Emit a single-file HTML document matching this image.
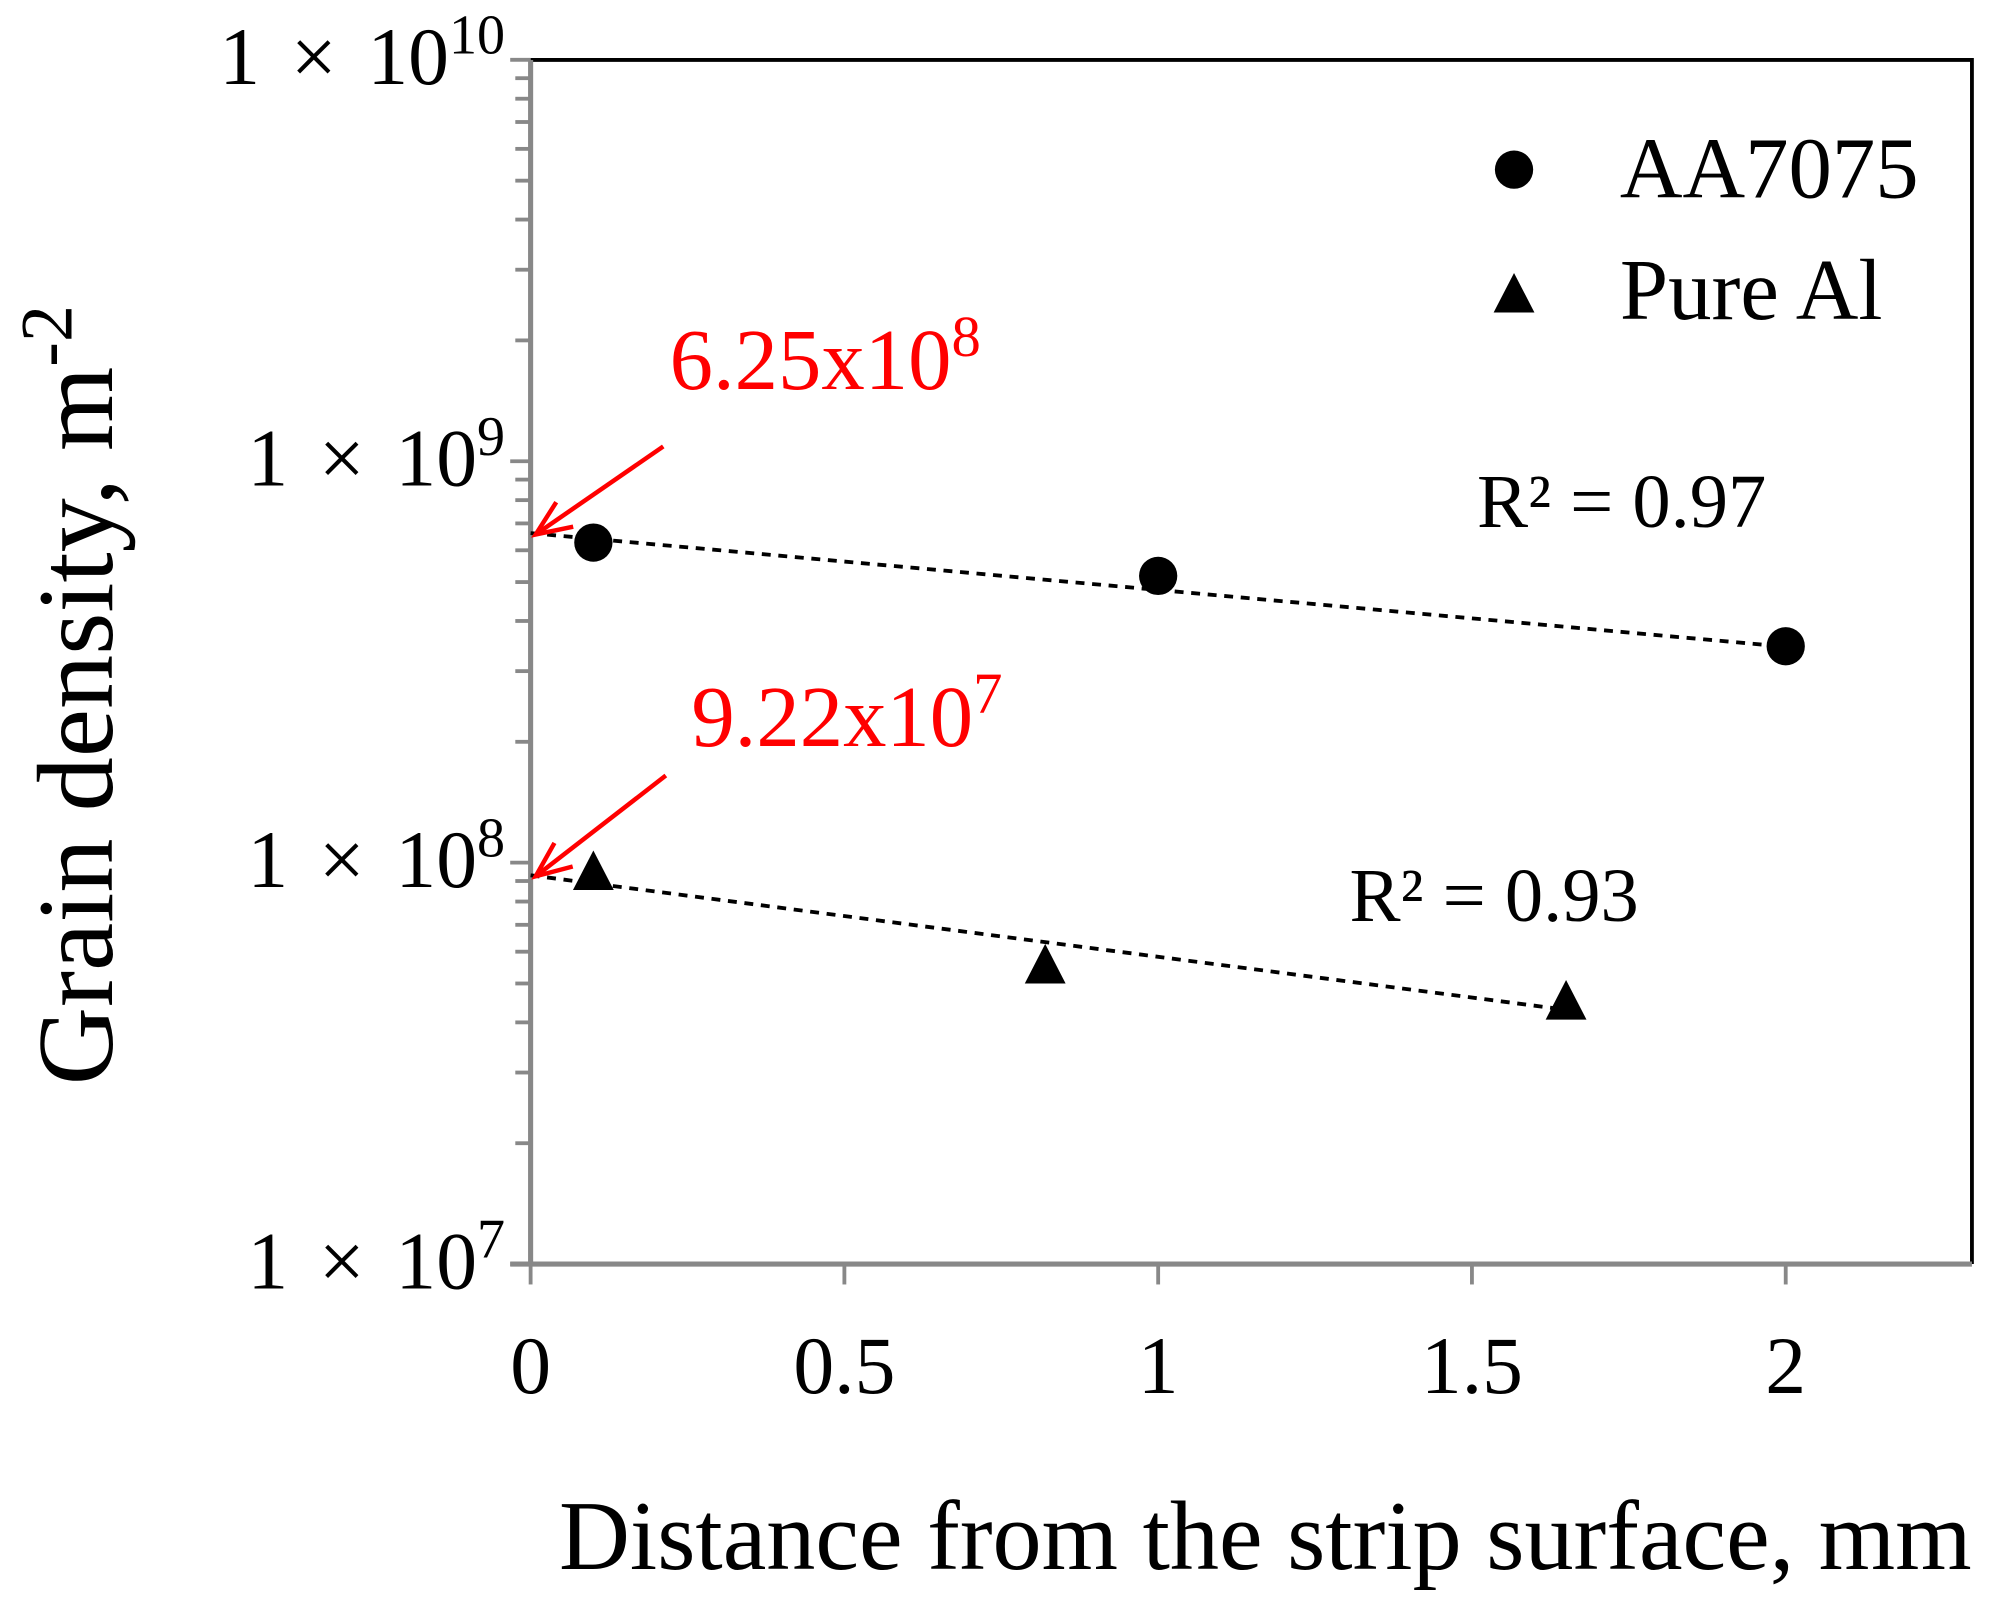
<!DOCTYPE html>
<html><head><meta charset="utf-8"><style>
html,body{margin:0;padding:0;background:#fff}
svg{display:block}
text{font-family:"Liberation Serif",serif}
</style></head><body>
<svg id="chart" width="2000" height="1611" viewBox="0 0 1568 1263" preserveAspectRatio="none" xmlns="http://www.w3.org/2000/svg">
<g id="g"></g>
</svg>
<script>
const xTicks=[0,0.5,1,1.5,2];
const xTickLabels=["0","0.5","1","1.5","2"];
const yDecades=[7,8,9,10];
const aaX=[0.1,1,2];
const aaY=[6.27e8,5.18e8,3.46e8];
const alX=[0.1,0.82,1.65];
const alY=[9.4e7,5.5e7,4.47e7];
const aaTrendX=[0,2];
const aaTrendY=[6.62e8,3.45e8];
const alTrendX=[0,1.65];
const alTrendY=[9.3e7,4.3e7];

const L=416,T=47,R=1546,B=991;
const xs=v=>L+v*492;
const ys=v=>B-(Math.log10(v)-7)*314.7;
const NS="http://www.w3.org/2000/svg";
const g=document.getElementById('g');
function mk(tag,attrs,txt){const e=document.createElementNS(NS,tag);for(const k in attrs)e.setAttribute(k,attrs[k]);if(txt!==undefined)e.textContent=txt;g.appendChild(e);return e;}

let e=mk('path',{d:`M${L},${T}H${R}V${B}`,fill:'none',stroke:'#000','stroke-width':3});


e=mk('line',{x1:L,y1:T,x2:L,y2:B,stroke:'#888','stroke-width':4});


e=mk('line',{x1:L-16,y1:B,x2:R,y2:B,stroke:'#888','stroke-width':4});



yDecades.forEach((d,i)=>{
  const y=ys(Math.pow(10,d));
  let t=mk('line',{x1:L-16,y1:y,x2:L,y2:y,stroke:'#888','stroke-width':3});
  
  
  let lab=mk('text',{x:396,y:y+19,'text-anchor':'end','font-size':64,'word-spacing':8});
  
  
  lab.innerHTML=`1 × 10<tspan dy="-24" font-size="44">${d}</tspan>`;
  if(i<yDecades.length-1){
    for(let m=2;m<=9;m++){
      const ym=ys(m*Math.pow(10,d));
      let mt=mk('line',{x1:L-12,y1:ym,x2:L,y2:ym,stroke:'#888','stroke-width':3});
      
      
    }
  }
});
xTicks.forEach((v,i)=>{
  const x=xs(v);
  let t=mk('line',{x1:x,y1:B,x2:x,y2:B+16,stroke:'#888','stroke-width':3});
  
  
  let lab=mk('text',{x:x,y:1092,'text-anchor':'middle','font-size':64},xTickLabels[i]);
  
  
});
e=mk('text',{x:992,y:1230,'text-anchor':'middle','font-size':77},'Distance from the strip surface, mm');


e=mk('text',{x:0,y:0,'text-anchor':'middle','font-size':85,transform:'translate(88,545) rotate(-90)'});


e.innerHTML='Grain density, m<tspan dy="-32" font-size="58">-2</tspan>';

e=mk('line',{x1:xs(aaTrendX[0]),y1:ys(aaTrendY[0]),x2:xs(aaTrendX[1]),y2:ys(aaTrendY[1]),stroke:'#000','stroke-width':3,'stroke-dasharray':'7,6'});


e=mk('line',{x1:xs(alTrendX[0]),y1:ys(alTrendY[0]),x2:xs(alTrendX[1]),y2:ys(alTrendY[1]),stroke:'#000','stroke-width':3,'stroke-dasharray':'7,6'});



aaX.forEach((x,i)=>{
  let c=mk('circle',{cx:xs(x),cy:ys(aaY[i]),r:15,fill:'#000'});
  
  
});
function tri(cx,cy){return `M${cx},${cy-18}L${cx+16},${cy+13}L${cx-16},${cy+13}Z`;}
alX.forEach((x,i)=>{
  let p=mk('path',{d:tri(xs(x),ys(alY[i])),fill:'#000'});
  
  
});

e=mk('circle',{cx:1187,cy:133,r:15,fill:'#000'});


e=mk('text',{x:1270,y:155,'font-size':68},'AA7075');


e=mk('path',{d:tri(1187,232),fill:'#000'});


e=mk('text',{x:1270,y:250,'font-size':68},'Pure Al');



e=mk('text',{x:1158,y:413,'font-size':60},'R² = 0.97');


e=mk('text',{x:1058,y:722,'font-size':60},'R² = 0.93');



e=mk('text',{x:525,y:305,'font-size':68,fill:'#f00'});


e.innerHTML='6.25x10<tspan dy="-26" font-size="46">8</tspan>';
e=mk('text',{x:542,y:585,'font-size':68,fill:'#f00'});


e.innerHTML='9.22x10<tspan dy="-26" font-size="46">7</tspan>';
function arrow(x1,y1,x2,y2,name){
  let l=mk('line',{x1:x1,y1:y1,x2:x2,y2:y2,stroke:'#f00','stroke-width':3.5});
  
  
  const a=Math.atan2(y2-y1,x2-x1),s=30,w=0.4;
  let h=mk('path',{d:`M${x2-s*Math.cos(a-w)},${y2-s*Math.sin(a-w)}L${x2},${y2}L${x2-s*Math.cos(a+w)},${y2-s*Math.sin(a+w)}`,fill:'none',stroke:'#f00','stroke-width':3.5});
  
  
}
arrow(520,350,420,419,'aa7075-arrow');
arrow(522,608,420,687,'pure-al-arrow');
</script>
</body></html>
